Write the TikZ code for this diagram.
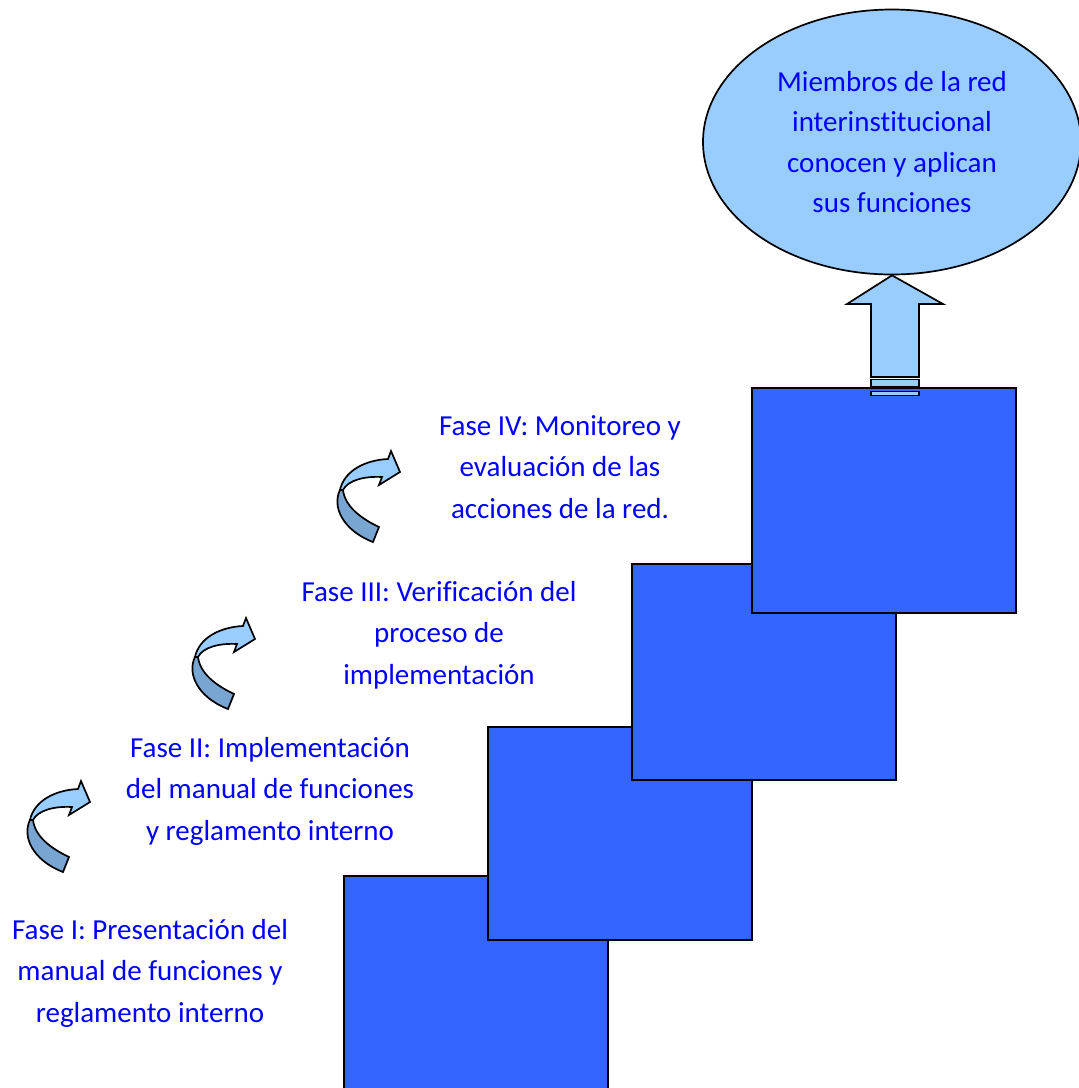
\documentclass[tikz,border=0pt]{standalone}
\usepackage{fontspec}
\setmainfont{Carlito}[Ligatures=NoCommon]
\usetikzlibrary{shapes.geometric}
\definecolor{boxblue}{RGB}{51,102,255}
\definecolor{paleblue}{RGB}{153,204,255}
\definecolor{shadeblue}{RGB}{120,165,210}
\definecolor{txtblue}{RGB}{0,0,255}
\begin{document}
\begin{tikzpicture}[x=1pt,y=-1pt,
  stepbox/.style={draw=black, line width=2pt, fill=boxblue, inner sep=0pt,
    anchor=north west, minimum width=264pt},
  phase/.style={text=txtblue, font=\fontsize{29}{41.5}\selectfont, align=center},
  outline/.style={draw=black, line width=1.7pt},
  curl/.pic={
    % back of the band (darker)
    \path[outline, fill=shadeblue]
      (20,50) .. controls (12,66) and (22,90) .. (53,102)
      -- (59,87) .. controls (40,78) and (25,66) .. (23,50) -- cycle;
    % front of the band with the head
    \path[outline, fill=paleblue]
      (20,50) .. controls (24,31) and (45,20) .. (68,19)
      -- (71,11) -- (80,32) -- (59,45) -- (62,37)
      .. controls (45,36) and (28,40) .. (23,50) -- cycle;
  }]
\useasboundingbox (0,0) rectangle (1079,1088);
\clip (0,0) rectangle (1079,1088);

% staircase of phases
\node[stepbox, minimum height=230pt] (s1) at (343,875) {};
\node[stepbox, minimum height=213pt] (s2) at (487,726) {};
\node[stepbox, minimum height=216pt] (s3) at (631,563) {};
\node[stepbox, minimum height=225pt] (s4) at (751,387) {};

% goal
\node[ellipse, outline, fill=paleblue, minimum width=378pt, minimum height=265pt,
  inner sep=0pt, phase, font=\fontsize{29}{40.3}\selectfont] (goal) at (892,142)
  {Miembros de la red\\interinstitucional\\conocen y aplican\\sus funciones};

% upward arrow from the top step to the goal
\path[outline, fill=paleblue]
  (goal.south) -- (943,304) -- (919,304) -- (919,377) -- (871,377)
  -- (871,304) -- (847,304) -- cycle;
\path[outline, fill=paleblue] (871,379.5) rectangle (919,387);
\path[outline, fill=paleblue] (871,391.5) rectangle (919,395.5);

% phase labels
\node[phase] (f1) at (150,973) {Fase I: Presentación del\\manual de funciones y\\reglamento interno};
\node[phase] (f2) at (270,791) {Fase II: Implementación\\del manual de funciones\\y reglamento interno};
\node[phase] (f3) at (439,635) {Fase III: Verificación del\\proceso de\\implementación};
\node[phase] (f4) at (560,467) {Fase IV: Monitoreo y\\evaluación de las\\acciones de la red.};

% curved arrows between phases
\pic at (10,770) {curl};
\pic at (175,607) {curl};
\pic at (320,440) {curl};
\end{tikzpicture}
\end{document}
